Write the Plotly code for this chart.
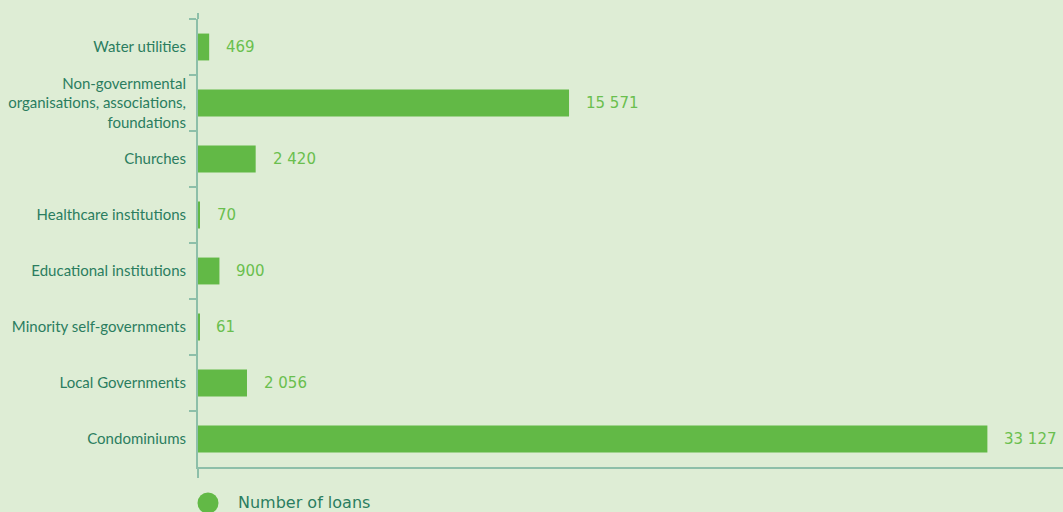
import plotly.graph_objects as go

categories = [
    "Water utilities",
    "Non-governmental<br>organisations, associations,<br>foundations",
    "Churches",
    "Healthcare institutions",
    "Educational institutions",
    "Minority self-governments",
    "Local Governments",
    "Condominiums",
]
loans = [469, 15571, 2420, 70, 900, 61, 2056, 33127]
series_name = "Number of loans"

BG = "#deedd5"
BAR = "#62b946"
TEAL = "#2b7d5f"
VAL = "#6abf4e"
AXIS = "#8dbfa9"

labels = [f"{v:,}".replace(",", " ") for v in loans]

fig = go.Figure()
fig.add_trace(go.Bar(
    x=loans, y=categories, orientation="h", name=series_name,
    marker=dict(color=BAR, line=dict(width=0)),
    showlegend=False, hoverinfo="skip",
))
for c, v, t in zip(categories, loans, labels):
    fig.add_annotation(
        x=v, y=c, text=t, showarrow=False, xanchor="left", xshift=15,
        font=dict(family="DejaVu Sans", size=15, color=VAL),
    )

# short extension of the y-axis line above the plot area
fig.add_shape(
    type="line", xref="paper", yref="paper",
    ysizemode="pixel", yanchor=1, x0=0, x1=0, y0=0, y1=6,
    line=dict(color=AXIS, width=2),
)

# legend (drawn manually: large circle + label)
fig.add_shape(
    type="circle", xref="paper", yref="paper",
    xsizemode="pixel", ysizemode="pixel", xanchor=0, yanchor=0,
    x0=-0.5, x1=20.5, y0=-25.5, y1=-46.5,
    fillcolor=BAR, line=dict(width=0),
)
fig.add_annotation(
    xref="paper", yref="paper", x=0, y=0, xshift=38, yshift=-35,
    xanchor="left", yanchor="middle", showarrow=False, text=series_name,
    font=dict(family="DejaVu Sans", size=16, color=TEAL),
)

fig.update_layout(
    width=1063, height=512,
    margin=dict(l=198, r=0, t=19, b=45),
    paper_bgcolor=BG, plot_bgcolor=BG,
    bargap=0.52, showlegend=False,
    font=dict(family="Lato", color=TEAL, size=15),
    xaxis=dict(
        range=[0, 36300], showgrid=False, zeroline=False,
        showline=True, linecolor=AXIS, linewidth=2,
        tickvals=[0], ticks="outside", ticklen=9, tickcolor=AXIS, tickwidth=2,
        showticklabels=False,
    ),
    yaxis=dict(
        autorange="reversed", showgrid=False, zeroline=False,
        showline=True, linecolor=AXIS, linewidth=2,
        ticks="outside", tickson="boundaries", ticklen=7,
        tickcolor=AXIS, tickwidth=2, ticklabelstandoff=7,
        tickfont=dict(family="Lato", size=15, color=TEAL),
    ),
)

fig.write_html("out.html")
